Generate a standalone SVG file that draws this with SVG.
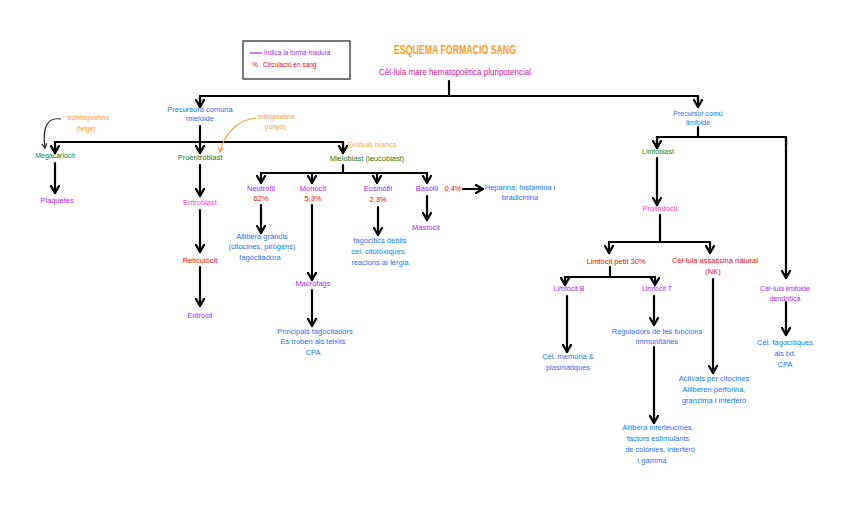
<svg xmlns="http://www.w3.org/2000/svg" width="848" height="507" viewBox="0 0 848 507">
<defs>
<marker id="ah" viewBox="0 0 10 10" refX="8" refY="5" markerWidth="4.6" markerHeight="4.6" orient="auto" markerUnits="strokeWidth">
<path d="M1,1 L8,5 L1,9" fill="none" stroke="#000" stroke-width="2.2" stroke-linecap="round" stroke-linejoin="round"/>
</marker>
<marker id="aho" viewBox="0 0 10 10" refX="8" refY="5" markerWidth="5" markerHeight="5" orient="auto" markerUnits="strokeWidth">
<path d="M1,1 L8,5 L1,9" fill="none" stroke="#f5a030" stroke-width="2" stroke-linecap="round"/>
</marker>
<marker id="ahk" viewBox="0 0 10 10" refX="8" refY="5" markerWidth="5" markerHeight="5" orient="auto" markerUnits="strokeWidth">
<path d="M1,1 L8,5 L1,9" fill="none" stroke="#222" stroke-width="2" stroke-linecap="round"/>
</marker>
</defs>
<style>
text{font-family:"Liberation Sans","DejaVu Sans",sans-serif;font-size:7.5px;text-anchor:middle}
.b{fill:#1a74f0}.p{fill:#a51ef0}.g{fill:#167a1a}.r{fill:#e80a0a}.k{fill:#ff40c0}.o{fill:#ff9a28}.m{fill:#d0109a}.y{fill:#f2b818}
.ln{fill:none;stroke:#000;stroke-width:2.2;stroke-linecap:round;stroke-linejoin:round}
.ar{fill:none;stroke:#000;stroke-width:2.2;stroke-linecap:round;marker-end:url(#ah)}
</style>
<rect width="848" height="507" fill="#fff"/>

<g id="legend">
<rect x="243" y="41" width="107" height="38" fill="none" stroke="#222" stroke-width="1.2"/>
<line x1="250" y1="53" x2="262" y2="53" stroke="#a51ef0" stroke-width="1.2"/>
<text x="264" y="55" class="p" style="text-anchor:start;font-size:6.5px">Indica la forma madura</text>
<text x="252" y="67" class="r" style="text-anchor:start;font-size:6.5px">%</text>
<text x="263" y="67" class="r" style="text-anchor:start;font-size:6.5px">Circulació en sang</text>
</g>

<g id="title">
<text x="455" y="54" class="o" style="font-size:12px;font-weight:bold" textLength="122" lengthAdjust="spacingAndGlyphs">ESQUEMA FORMACIÓ SANG</text>
</g>
<g id="hsc"><text x="455" y="75" class="m" style="font-size:8.5px" textLength="152" lengthAdjust="spacingAndGlyphs">Cèl·lula mare hematopoètica pluripotencial</text></g>

<g id="connectors">
<polyline class="ln" points="449,81 449,96"/>
<polyline class="ln" points="200,107 200,96 698,96 698,107"/>
<polyline class="ar" points="200,96 200,107"/>
<polyline class="ar" points="698,96 698,107"/>
<polyline class="ln" points="200,126 200,142"/>
<polyline class="ln" points="55,152 55,142 343,142 343,152"/>
<polyline class="ar" points="55,142 55,153"/>
<polyline class="ar" points="200,142 200,153"/>
<polyline class="ar" points="343,142 343,153"/>
<polyline class="ar" points="55,163 55,193"/>
<polyline class="ar" points="200,165 200,196"/>
<polyline class="ar" points="200,210 200,252"/>
<polyline class="ar" points="200,267 200,306"/>
<polyline class="ln" points="343,165 343,173"/>
<polyline class="ln" points="261,173 427,173"/>
<polyline class="ar" points="261,173 261,183"/>
<polyline class="ar" points="312,173 312,183"/>
<polyline class="ar" points="377,173 377,183"/>
<polyline class="ar" points="427,173 427,183"/>
<polyline class="ar" points="261,205 261,233"/>
<polyline class="ar" points="312,205 312,280"/>
<polyline class="ar" points="312,290 312,326"/>
<polyline class="ar" points="378,207 378,235"/>
<polyline class="ar" points="427,196 427,220"/>
<polyline class="ar" points="463,189 483,189"/>
<path d="M61,119 C48,117 42,126 45,148" fill="none" stroke="#222" stroke-width="1.2" marker-end="url(#ahk)"/>
<path d="M256,118 C236,120 224,135 220,152" fill="none" stroke="#f5a030" stroke-width="1.2" marker-end="url(#aho)"/>
<polyline class="ln" points="698,127 698,137"/>
<polyline class="ln" points="657,146 657,137 786,137 786,146"/>
<polyline class="ar" points="657,137 657,148"/>
<polyline class="ar" points="786,137 786,278"/>
<polyline class="ar" points="657,158 657,205"/>
<polyline class="ln" points="660,215 660,242"/>
<polyline class="ln" points="609,242 710,242"/>
<polyline class="ar" points="609,242 609,253"/>
<polyline class="ar" points="710,242 710,253"/>
<polyline class="ln" points="610,267 610,277"/>
<polyline class="ln" points="565,277 655,277"/>
<polyline class="ar" points="565,277 565,285"/>
<polyline class="ar" points="655,277 655,285"/>
<polyline class="ar" points="567,296 567,352"/>
<polyline class="ar" points="654,296 654,325"/>
<polyline class="ar" points="654,347 654,423"/>
<polyline class="ar" points="713,279 713,373"/>
<polyline class="ar" points="786,302 786,335"/>
</g>

<g id="myeloid"><text x="200" y="112" class="b">Precursora comuna</text><text x="200" y="121" class="b">mieloide</text></g>
<g id="tpo"><text x="88" y="120" class="o" style="font-size:6.5px">trombopoetina</text><text x="86" y="131" class="o" style="font-size:6.5px">(fetge)</text></g>
<g id="epo"><text x="276" y="119" class="o" style="font-size:6.5px">eritropoetina</text><text x="275" y="129" class="o" style="font-size:6.5px">(ronyó)</text></g>
<g id="megacariocit"><text x="55" y="158" class="g" style="font-size:7px">Megacariòcit</text></g>
<g id="plaquetes"><text x="57" y="203" class="p">Plaquetes</text></g>
<g id="proeritroblast"><text x="200" y="160" class="g">Proeritroblast</text></g>
<g id="eritroblast"><text x="200" y="205" class="k">Eritroblast</text></g>
<g id="reticulocit"><text x="200" y="263" class="r">Reticulòcit</text></g>
<g id="eritrocit"><text x="200" y="318" class="p">Eritròcit</text></g>
<g id="globuls"><text x="372" y="147" class="y">Glòbuls blancs</text></g>
<g id="mieloblast"><text x="367" y="161" class="g">Mieloblast (leucoblast)</text></g>
<g id="neutrofil"><text x="261" y="191" class="p">Neutròfil</text><text x="261" y="201" class="r">62%</text></g>
<g id="monocit"><text x="313" y="191" class="p">Monòcit</text><text x="313" y="201" class="r">5,3%</text></g>
<g id="eosinofil"><text x="378" y="191" class="p">Eosinòfil</text><text x="378" y="202" class="r">2,3%</text></g>
<g id="basofil"><text x="427" y="191" class="p">Basòfil</text><text x="453" y="191" class="r">0,4%</text></g>
<g id="heparina"><text x="520" y="190" class="b">Heparina, histamina i</text><text x="520" y="200" class="b">bradicinina</text></g>
<g id="neutro-func"><text x="262" y="239" class="b">Allibera grànuls</text><text x="262" y="249" class="b">(citocines, pirògens)</text><text x="260" y="260" class="b">fagòcitadora</text></g>
<g id="macrofags"><text x="313" y="286" class="p">Macròfags</text></g>
<g id="macro-func"><text x="315" y="334" class="b">Principals fagocitadors</text><text x="313" y="344" class="b">Es troben als teixits</text><text x="313" y="355" class="b">CPA</text></g>
<g id="eos-func"><text x="380" y="243" class="b">fagòcitics dèbils</text><text x="378" y="254" class="b">cèl. citotòxiques</text><text x="380" y="265" class="b">reacions al·lèrgia</text></g>
<g id="mastocit"><text x="426" y="230" class="p">Mastòcit</text></g>

<g id="lymphoid"><text x="698" y="116" class="b" style="font-size:7px">Precursor comú</text><text x="698" y="125" class="b" style="font-size:7px">limfoide</text></g>
<g id="limfoblast"><text x="658" y="154" class="g" style="font-size:7px">Limfoblast</text></g>
<g id="prolimfocit"><text x="660" y="211" class="k">Prolimfòcit</text></g>
<g id="limfocit-petit"><text x="616" y="264" class="r">Limfòcit petit  30%</text></g>
<g id="nk"><text x="715" y="263" class="r">Cèl·lula assassina natural</text><text x="713" y="274" class="r">(NK)</text></g>
<g id="limfocit-b"><text x="569" y="291" class="p" style="font-size:7px">Limfòcit B</text></g>
<g id="limfocit-t"><text x="657" y="291" class="p" style="font-size:7px">Limfòcit T</text></g>
<g id="dendritica"><text x="785" y="291" class="p" style="font-size:7px">Cèl·lula limfoide</text><text x="785" y="301" class="p" style="font-size:7px">dendrítica</text></g>
<g id="b-func"><text x="568" y="359" class="b">Cèl. memòria &amp;</text><text x="568" y="370" class="b">plasmàtiques</text></g>
<g id="t-func"><text x="657" y="334" class="b">Reguladors de les funcions</text><text x="657" y="344" class="b">immunitàries</text></g>
<g id="t-func2"><text x="658" y="430" class="b">Allibera interleucines,</text><text x="658" y="441" class="b">factors estimulants</text><text x="660" y="452" class="b">de colònies, interferó</text><text x="652" y="463" class="b">i gamma</text></g>
<g id="nk-func"><text x="714" y="381" class="b">Activats per citocines</text><text x="714" y="392" class="b">Alliberen perforina,</text><text x="714" y="403" class="b">granzima i interferó</text></g>
<g id="dend-func"><text x="785" y="345" class="b">Cèl. fagocítiques</text><text x="785" y="356" class="b">als txt.</text><text x="785" y="367" class="b">CPA</text></g>
</svg>
